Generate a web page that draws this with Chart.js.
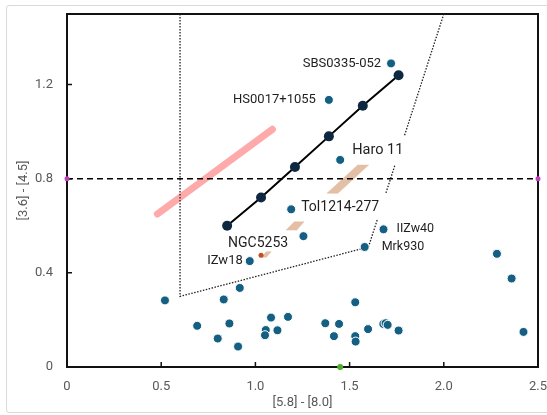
<!DOCTYPE html>
<html>
<head>
<meta charset="utf-8">
<script src="https://cdn.jsdelivr.net/npm/chart.js@4/dist/chart.umd.min.js"></script>
<style>
body{margin:0;background:#fff}
#wrap{position:relative;width:547px;height:415px;overflow:hidden}
#frame{position:absolute;left:6px;top:5px;width:560px;height:406px;border:1px solid #d9d9d9;border-radius:3px}
canvas{position:absolute;left:0;top:0}
</style>
</head>
<body>
<div id="wrap"><div id="frame"></div><canvas id="c" width="547" height="415"></canvas></div>
<script>
// axis ticks
const xTicks = [0, 0.5, 1, 1.5, 2, 2.5]
const yTicks = [0, 0.4, 0.8, 1.2]

// model track (black line with dark markers)
const trackX = [0.85, 1.03, 1.21, 1.39, 1.57, 1.76]
const trackY = [0.60, 0.72, 0.85, 0.98, 1.11, 1.24]

// labelled galaxies
const namedGalaxies = ['SBS0335-052', 'HS0017+1055', 'Haro 11', 'Tol1214-277', 'IIZw40', 'Mrk930', 'IZw18']
const namedX = [1.72, 1.39, 1.45, 1.19, 1.68, 1.58, 0.97]
const namedY = [1.29, 1.135, 0.88, 0.67, 0.585, 0.51, 0.45]

// NGC5253 (orange marker)
const ngcName = 'NGC5253'
const ngcX = [1.03]
const ngcY = [0.475]

// other galaxies
const otherX = [0.52, 0.832, 0.917, 0.691, 0.862, 0.80, 0.908, 1.083, 1.055, 1.051, 1.117, 1.173, 1.371, 1.444, 1.417,
  1.53, 1.53, 1.532, 1.598, 1.679, 1.691, 1.702, 1.76, 2.282, 2.36, 2.423, 1.255]
const otherY = [0.283, 0.287, 0.336, 0.175, 0.185, 0.121, 0.087, 0.21, 0.157, 0.135, 0.156, 0.213, 0.186, 0.183, 0.131,
  0.275, 0.131, 0.108, 0.161, 0.183, 0.186, 0.179, 0.155, 0.481, 0.376, 0.149, 0.556]

// pink band
const pinkX = [0.48, 1.09]
const pinkY = [0.65, 1.01]

// tan stripes (closed outlines)
const tanAX = [1.38, 1.438, 1.601, 1.543, 1.38]
const tanAY = [0.738, 0.738, 0.858, 0.858, 0.738]
const tanBX = [1.163, 1.22, 1.258, 1.207, 1.163]
const tanBY = [0.582, 0.582, 0.617, 0.617, 0.582]
const tanCX = [1.03, 1.058, 1.084, 1.058, 1.03]
const tanCY = [0.466, 0.466, 0.49, 0.49, 0.466]

// dotted wedge (null = gap)
const wedgeX = [0.6, 0.6, 1.6, 1.647, null, 1.693, 1.742, null, 1.792, 2.0]
const wedgeY = [1.5, 0.3, 0.51, 0.626, null, 0.74, 0.861, null, 0.985, 1.5]

// dashed threshold
const cutX = [0, 2.5]
const cutY = [0.8, 0.8]

// green marker on the x axis
const greenX = [1.45]
const greenY = [0]

const pts = (xs, ys) => xs.map((v, i) => ({x: v, y: ys[i]}))
const FONT = 'Roboto'

// label placement (pixel offsets from the point)
const labelStyle = {
  'SBS0335-052': {dx: -10, dy: 0, align: 'right', size: 13},
  'HS0017+1055': {dx: -13, dy: 0, align: 'right', size: 13},
  'Haro 11': {dx: 12, dy: -10, align: 'left', size: 14.5},
  'Tol1214-277': {dx: 10, dy: -2, align: 'left', size: 14},
  'IIZw40': {dx: 13, dy: 0, align: 'left', size: 12.5},
  'Mrk930': {dx: 17, dy: 0, align: 'left', size: 12.5},
  'IZw18': {dx: -7, dy: 0, align: 'right', size: 13},
  'NGC5253': {dx: -33, dy: -12, align: 'left', size: 14}
}

const decor = {
  id: 'decor',
  beforeDatasetsDraw(chart) {
    const {ctx, chartArea: a, scales: {x, y}} = chart
    ctx.save()
    ctx.strokeStyle = '#111'
    ctx.lineWidth = 2
    ctx.strokeRect(a.left, a.top, a.right - a.left, a.bottom - a.top)
    ctx.lineWidth = 1.5
    ctx.beginPath()
    xTicks.slice(1, -1).forEach(v => {
      const px = x.getPixelForValue(v)
      ctx.moveTo(px, a.bottom); ctx.lineTo(px, a.bottom - 5)
    })
    yTicks.slice(1).forEach(v => {
      const py = y.getPixelForValue(v)
      ctx.moveTo(a.left, py); ctx.lineTo(a.left + 5, py)
    })
    ctx.stroke()
    ctx.restore()
  },
  afterDatasetsDraw(chart) {
    const {ctx, scales: {x, y}} = chart
    ctx.save()
    ctx.fillStyle = '#1f1f1f'
    ctx.textBaseline = 'middle'
    const put = (name, vx, vy) => {
      const s = labelStyle[name]
      ctx.font = s.size + 'px ' + FONT
      ctx.textAlign = s.align
      ctx.fillText(name, x.getPixelForValue(vx) + s.dx, y.getPixelForValue(vy) + s.dy)
    }
    namedGalaxies.forEach((n, i) => put(n, namedX[i], namedY[i]))
    put(ngcName, ngcX[0], ngcY[0])
    ctx.restore()
  }
}

new Chart(document.getElementById('c'), {
  type: 'scatter',
  data: {
    datasets: [
      {data: pts(namedX, namedY), backgroundColor: '#156082', borderColor: '#fff', borderWidth: 1, pointRadius: 4.5, order: 1},
      {data: pts(otherX, otherY), backgroundColor: '#156082', borderColor: '#fff', borderWidth: 1, pointRadius: 4.5, order: 1},
      {data: pts(trackX, trackY), showLine: true, borderColor: '#000', borderWidth: 2,
        pointRadius: 5, pointBorderWidth: 0, pointBackgroundColor: '#0e2841', order: 2},
      {data: pts(ngcX, ngcY), backgroundColor: '#c0501f', borderWidth: 0, pointRadius: 2.5, order: 3},
      {data: pts(cutX, cutY), showLine: true, borderColor: '#000', borderWidth: 1.5, borderDash: [6, 4],
        pointRadius: 2.5, pointBackgroundColor: '#c040c0', pointBorderWidth: 0, clip: false, order: 4},
      {data: pts(greenX, greenY), backgroundColor: '#4caf2a', borderWidth: 0, pointRadius: 3, clip: false, order: 4},
      {data: pts(wedgeX, wedgeY), showLine: true, spanGaps: false, borderColor: '#222', borderWidth: 1.3,
        borderDash: [1.5, 1.5], pointRadius: 0, order: 5},
      {data: pts(tanAX, tanAY), showLine: true, fill: 'shape', backgroundColor: '#e2bfa5', borderColor: '#e2bfa5', borderWidth: 0.5, pointRadius: 0, order: 6},
      {data: pts(tanBX, tanBY), showLine: true, fill: 'shape', backgroundColor: '#e2bfa5', borderColor: '#e2bfa5', borderWidth: 0.5, pointRadius: 0, order: 6},
      {data: pts(tanCX, tanCY), showLine: true, fill: 'shape', backgroundColor: '#e2bfa5', borderColor: '#e2bfa5', borderWidth: 0.5, pointRadius: 0, order: 6},
      {data: pts(pinkX, pinkY), showLine: true, borderColor: '#ffaaaa', borderWidth: 7, borderCapStyle: 'round', pointRadius: 0, order: 7}
    ]
  },
  options: {
    responsive: false,
    animation: false,
    layout: {padding: {top: 14, right: 9, left: 0, bottom: 0}},
    plugins: {legend: {display: false}, tooltip: {enabled: false}},
    scales: {
      x: {
        type: 'linear', min: 0, max: 2.5,
        grid: {display: false, drawTicks: false}, border: {display: false},
        afterBuildTicks: s => { s.ticks = xTicks.map(v => ({value: v})) },
        afterFit: s => { s.height = 48; s.paddingLeft = 0; s.paddingRight = 0 },
        ticks: {color: '#595959', font: {size: 13, family: FONT}, padding: 12},
        title: {display: true, text: '[5.8] - [8.0]', color: '#595959', font: {size: 13, family: FONT}, padding: {top: 4, bottom: 4}}
      },
      y: {
        type: 'linear', min: 0, max: 1.5,
        grid: {display: false, drawTicks: false}, border: {display: false},
        afterBuildTicks: s => { s.ticks = yTicks.map(v => ({value: v})) },
        afterFit: s => { s.width = 67; s.paddingTop = 0; s.paddingBottom = 0 },
        ticks: {color: '#595959', font: {size: 13, family: FONT}, padding: 14},
        title: {display: true, text: '[3.6] - [4.5]', color: '#595959', font: {size: 13, family: FONT}, padding: {top: 16, bottom: 4}}
      }
    }
  },
  plugins: [decor]
})
</script>
</body>
</html>
